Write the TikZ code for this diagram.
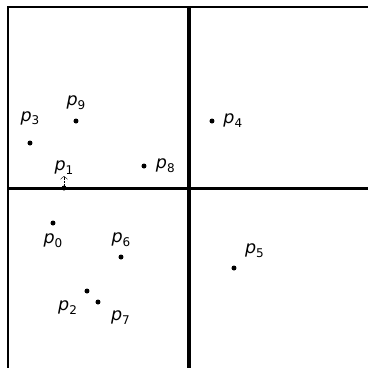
\documentclass[tikz,border=0pt]{standalone}
\usepackage{fontspec}
\setmainfont{DejaVu Sans}
\usetikzlibrary{positioning, arrows.meta}
\newcommand{\plabel}[1]{\textit{p}\raisebox{-0.4ex}{\fontsize{12}{12}\selectfont #1}}
\tikzset{
  pnt/.style={circle, fill, inner sep=0pt, minimum size=5pt},
  lbl/.style={inner sep=0pt, font=\fontsize{17.5}{17.5}\selectfont},
  border/.style={line width=1.2pt},
  split/.style={line width=3.3pt},
}

\begin{document}
\begin{tikzpicture}[x=1pt, y=-1pt]
    \useasboundingbox (0,0) rectangle (368,368);
    % frame and split lines
    \coordinate (tl) at (8,7);
    \coordinate (tr) at (368,7);
    \coordinate (bl) at (8,368);
    \coordinate (vt) at (189,7);
    \coordinate (vb) at (189,368);
    \coordinate (hl) at (8,188.5);
    \coordinate (hr) at (368,188.5);
    \draw[border] (bl) -- (tl) -- (tr);
    \draw[split] (vt) -- (vb);
    \draw[split] (hl) -- (hr);
    % points
    \node[pnt] (p0) at (53,223) {};
    \node[pnt] (p1) at (64,188) {};
    \node[pnt] (p2) at (87,291) {};
    \node[pnt] (p3) at (30,143) {};
    \node[pnt] (p4) at (212,121) {};
    \node[pnt] (p5) at (234,268) {};
    \node[pnt] (p6) at (121,257) {};
    \node[pnt] (p7) at (98,302) {};
    \node[pnt] (p8) at (144,166) {};
    \node[pnt] (p9) at (76,121) {};
    % labels
    \node[lbl, below=7.5pt of p0] (l0) {\plabel{0}};
    \node[lbl, above=11pt of p1] (l1) {\plabel{1}};
    \node[lbl, below left=8pt and 8pt of p2] (l2) {\plabel{2}};
    \node[lbl, above=15pt of p3] (l3) {\plabel{3}};
    \node[lbl, right=8.5pt of p4] (l4) {\plabel{4}};
    \node[lbl, above right=8pt and 9pt of p5] (l5) {\plabel{5}};
    \node[lbl, above=7.5pt of p6] (l6) {\plabel{6}};
    \node[lbl, below right=6.5pt and 11pt of p7] (l7) {\plabel{7}};
    \node[lbl, right=9pt of p8] (l8) {\plabel{8}};
    \node[lbl, above=8.5pt of p9] (l9) {\plabel{9}};
    % marker above p1
    \coordinate (p1tip) at (64,176);
    \draw[densely dotted, -{Straight Barb[length=3pt, width=7pt]}] (p1) -- (p1tip);
\end{tikzpicture}
\end{document}
